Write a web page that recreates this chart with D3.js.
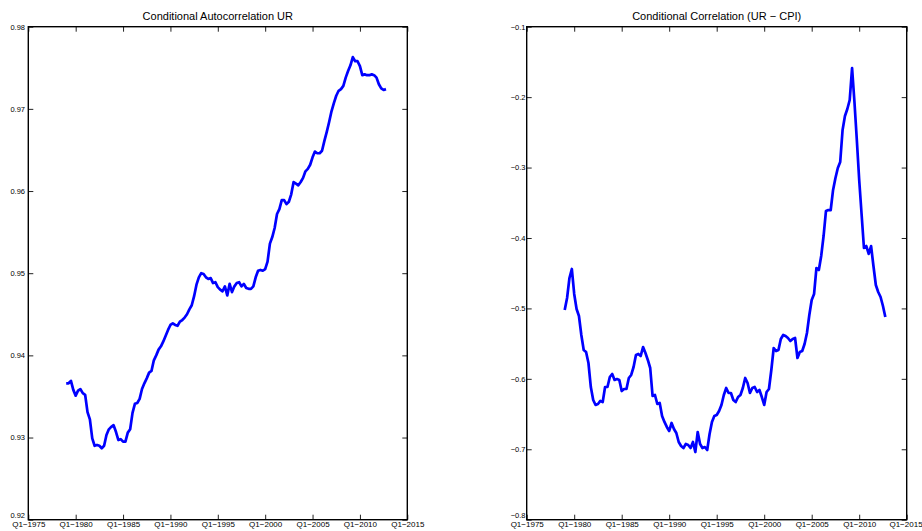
<!DOCTYPE html>
<html>
<head>
<meta charset="utf-8">
<script src="https://cdn.jsdelivr.net/npm/d3@7"></script>
<style>
  html, body { margin: 0; padding: 0; background: #fff; }
  svg { display: block; font-family: "Liberation Sans", Arial, Helvetica, sans-serif; }
</style>
</head>
<body>
<svg id="chart" width="922" height="531"></svg>
<script>
// Quarterly estimates, 1979Q1 onwards
const startYear = 1979;

const autocorrUR = [
  0.9366, 0.9366, 0.9369, 0.9358, 0.9351, 0.9357, 0.9359, 0.9354, 0.9352, 0.9331,
  0.9322, 0.9299, 0.9290, 0.9291, 0.9290, 0.9287, 0.9290, 0.9303, 0.9310, 0.9313,
  0.9315, 0.9307, 0.9297, 0.9298, 0.9295, 0.9295, 0.9306, 0.9310, 0.9330, 0.9341,
  0.9342, 0.9347, 0.9359, 0.9366, 0.9372, 0.9379, 0.9381, 0.9394, 0.9400, 0.9407,
  0.9411, 0.9417, 0.9424, 0.9431, 0.9437, 0.9439, 0.9437, 0.9436, 0.9441, 0.9443,
  0.9446, 0.9450, 0.9456, 0.9461, 0.9472, 0.9486, 0.9495, 0.9500, 0.9499, 0.9495,
  0.9493, 0.9494, 0.9488, 0.9489, 0.9483, 0.9480, 0.9478, 0.9484, 0.9473, 0.9487,
  0.9477, 0.9484, 0.9488, 0.9489, 0.9484, 0.9487, 0.9482, 0.9481, 0.9481, 0.9484,
  0.9495, 0.9503, 0.9504, 0.9503, 0.9505, 0.9514, 0.9536, 0.9544, 0.9555, 0.9572,
  0.9578, 0.9589, 0.9589, 0.9584, 0.9587, 0.9596, 0.9611, 0.9609, 0.9607, 0.9611,
  0.9616, 0.9624, 0.9627, 0.9632, 0.9641, 0.9648, 0.9646, 0.9646, 0.9649, 0.9661,
  0.9672, 0.9684, 0.9697, 0.9707, 0.9716, 0.9722, 0.9724, 0.9728, 0.9738, 0.9746,
  0.9753, 0.9763, 0.9758, 0.9758, 0.9752, 0.9741, 0.9742, 0.9741, 0.9741, 0.9742,
  0.9741, 0.9738, 0.9730, 0.9725, 0.9723, 0.9724
];

const corrURCPI = [
  -0.5022, -0.4852, -0.4568, -0.4440, -0.4795, -0.5008, -0.5108, -0.5377, -0.5590, -0.5619,
  -0.5775, -0.6116, -0.6300, -0.6371, -0.6357, -0.6314, -0.6329, -0.6116, -0.6116, -0.5974,
  -0.5931, -0.6016, -0.6002, -0.6016, -0.6173, -0.6144, -0.6144, -0.5988, -0.5945, -0.5832,
  -0.5661, -0.5647, -0.5675, -0.5548, -0.5633, -0.5732, -0.5846, -0.6243, -0.6229, -0.6357,
  -0.6343, -0.6527, -0.6612, -0.6683, -0.6740, -0.6627, -0.6712, -0.6769, -0.6897, -0.6953,
  -0.6982, -0.6925, -0.6939, -0.6982, -0.6897, -0.7039, -0.6755, -0.6925, -0.6982, -0.6968,
  -0.7010, -0.6783, -0.6612, -0.6527, -0.6513, -0.6456, -0.6371, -0.6229, -0.6130, -0.6201,
  -0.6201, -0.6300, -0.6329, -0.6258, -0.6229, -0.6130, -0.5988, -0.6059, -0.6201, -0.6130,
  -0.6116, -0.6187, -0.6158, -0.6258, -0.6371, -0.6187, -0.6144, -0.5874, -0.5562, -0.5605,
  -0.5590, -0.5434, -0.5377, -0.5392, -0.5420, -0.5463, -0.5434, -0.5420, -0.5704, -0.5619,
  -0.5605, -0.5505, -0.5349, -0.5093, -0.4880, -0.4795, -0.4426, -0.4454, -0.4256, -0.3972,
  -0.3617, -0.3603, -0.3603, -0.3318, -0.3148, -0.3006, -0.2921, -0.2467, -0.2268, -0.2169,
  -0.2041, -0.1587, -0.2069, -0.2609, -0.3177, -0.3659, -0.4142, -0.4114, -0.4227, -0.4114,
  -0.4398, -0.4667, -0.4767, -0.4838, -0.4966, -0.5122
];

const xTickYears = [1975, 1980, 1985, 1990, 1995, 2000, 2005, 2010, 2015];
const xTickLabels = ["Q1\u22121975", "Q1\u22121980", "Q1\u22121985", "Q1\u22121990", "Q1\u22121995",
                     "Q1\u22122000", "Q1\u22122005", "Q1\u22122010", "Q1\u22122015"];

const leftYTicks = [0.92, 0.93, 0.94, 0.95, 0.96, 0.97, 0.98];
const leftYLabels = ["0.92", "0.93", "0.94", "0.95", "0.96", "0.97", "0.98"];
const rightYTicks = [-0.8, -0.7, -0.6, -0.5, -0.4, -0.3, -0.2, -0.1];
const rightYLabels = ["\u22120.8", "\u22120.7", "\u22120.6", "\u22120.5", "\u22120.4", "\u22120.3", "\u22120.2", "\u22120.1"];

const titles = ["Conditional Autocorrelation UR", "Conditional Correlation (UR \u2212 CPI)"];

const svg = d3.select("#chart");

function drawPanel(opts) {
  const { left, right, top, bottom, values, yDomain, yTicks, yLabels, title, labelPad, lastLabelShift } = opts;
  const w = right - left, h = bottom - top;
  const g = svg.append("g").attr("transform", `translate(${left},${top})`);

  const x = d3.scaleLinear().domain([1975, 2015]).range([0, w]);
  const y = d3.scaleLinear().domain(yDomain).range([h, 0]);

  const series = values.map((v, i) => ({ t: startYear + i / 4, v }));

  // inward-pointing ticks on all four sides
  const xLab = d3.scaleOrdinal().domain(xTickYears).range(xTickLabels);
  const yLab = d3.scaleOrdinal().domain(yTicks).range(yLabels);

  const bottomAxis = g.append("g").attr("transform", `translate(0,${h})`)
    .call(d3.axisBottom(x).tickValues(xTickYears).tickFormat(d => xLab(d))
      .tickSizeInner(-5).tickSizeOuter(0).tickPadding(1.3));
  const topAxis = g.append("g")
    .call(d3.axisTop(x).tickValues(xTickYears).tickFormat("")
      .tickSizeInner(-5).tickSizeOuter(0));
  const leftAxis = g.append("g")
    .call(d3.axisLeft(y).tickValues(yTicks).tickFormat(d => yLab(d))
      .tickSizeInner(-5).tickSizeOuter(0).tickPadding(labelPad));
  const rightAxis = g.append("g").attr("transform", `translate(${w},0)`)
    .call(d3.axisRight(y).tickValues(yTicks).tickFormat("")
      .tickSizeInner(-5).tickSizeOuter(0));

  [bottomAxis, topAxis, leftAxis, rightAxis].forEach(a => {
    a.select(".domain").remove();
    a.selectAll(".tick line").attr("stroke", "#222").attr("stroke-width", 1);
    a.selectAll("text").attr("fill", "#000").style("font-family", "\"Liberation Sans\", Arial, sans-serif");
  });
  bottomAxis.selectAll("text").style("font-size", "8px");
  bottomAxis.selectAll(".tick").filter(d => d === 2015).select("text").attr("dx", lastLabelShift);
  leftAxis.selectAll("text").style("font-size", "7.5px");
  // lowest y label sits just above the date labels
  leftAxis.selectAll(".tick").filter(d => d === yDomain[0]).select("text").attr("y", -4.2);

  // data line
  g.append("path")
    .datum(series)
    .attr("fill", "none")
    .attr("stroke", "#0000ff")
    .attr("stroke-width", 2.7)
    .attr("stroke-linejoin", "round")
    .attr("d", d3.line().x(d => x(d.t)).y(d => y(d.v)));

  // axes box
  g.append("rect")
    .attr("x", 0).attr("y", 0).attr("width", w).attr("height", h)
    .attr("fill", "none").attr("stroke", "#000").attr("stroke-width", 1.4);

  svg.append("text")
    .attr("x", left + w / 2)
    .attr("y", 19.5)
    .attr("text-anchor", "middle")
    .style("font-size", "11px")
    .attr("fill", "#000")
    .text(title);
}

drawPanel({
  left: 28.3, right: 407.3, top: 26.7, bottom: 519.7,
  values: autocorrUR, yDomain: [0.92, 0.98],
  yTicks: leftYTicks, yLabels: leftYLabels, title: titles[0], labelPad: 3.3, lastLabelShift: 0
});

drawPanel({
  left: 526.7, right: 906.7, top: 26.7, bottom: 519.7,
  values: corrURCPI, yDomain: [-0.8, -0.1],
  yTicks: rightYTicks, yLabels: rightYLabels, title: titles[1], labelPad: 1.2, lastLabelShift: -1.2
});
</script>
</body>
</html>
